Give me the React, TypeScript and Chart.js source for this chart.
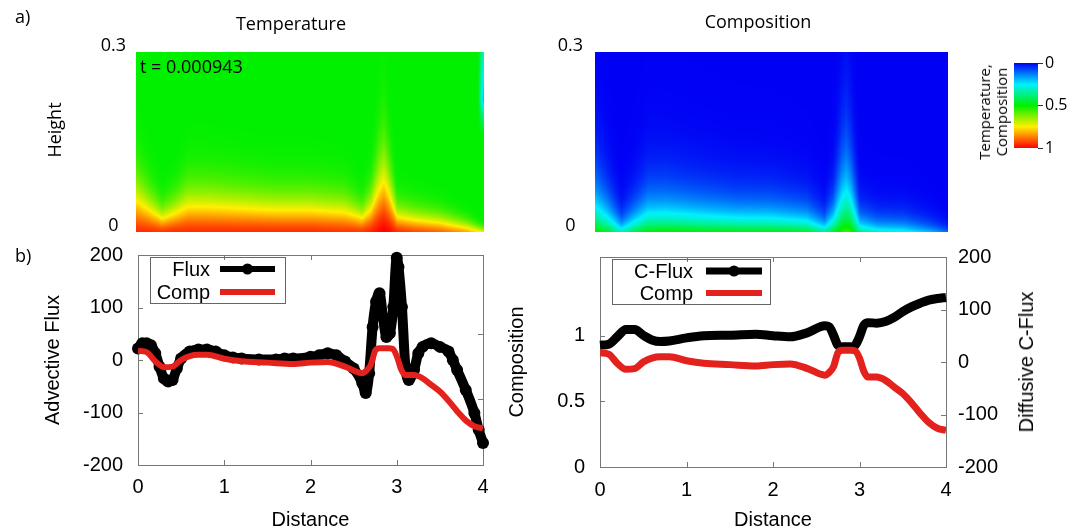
import React, { useEffect, useRef } from 'react';
import { Chart, registerables } from 'chart.js';
Chart.register(...registerables);

// ---------------- data ----------------
const distanceTicks = [0, 1, 2, 3, 4];
const fluxTicks = [-200, -100, 0, 100, 200];
const compTicks = [0, 0.5, 1];
const heightTicks = [0, 0.3];
const colorbarTicks = [0, 0.5, 1];

// Advective flux (black, left panel b)
const fluxX = [0, 0.05, 0.1, 0.15, 0.2, 0.25, 0.3, 0.35, 0.4, 0.45, 0.5, 0.6, 0.7, 0.8, 0.9, 1.0, 1.1, 1.2, 1.4, 1.6, 1.7, 1.8, 2.0, 2.1, 2.2, 2.3, 2.4, 2.5, 2.6, 2.64, 2.68, 2.72, 2.76, 2.8, 2.84, 2.88, 2.92, 2.96, 3.0, 3.02, 3.06, 3.1, 3.14, 3.2, 3.25, 3.3, 3.4, 3.5, 3.6, 3.65, 3.7, 3.8, 3.9, 3.95, 4.0];
const fluxY = [22, 32, 32, 28, 13, -13, -35, -41, -38, -16, 3, 16, 20, 20, 16, 9, 5, 3, 1, 1, 3, 3, 6, 9, 13, 9, -3, -16, -44, -63, -25, 63, 111, 127, 82, 44, 51, 101, 195, 177, 101, -13, -38, -19, 13, 25, 32, 25, 16, 0, -19, -57, -101, -133, -158];

// Composition (red, both panels b)
const compX = [0, 0.1, 0.2, 0.3, 0.4, 0.5, 0.6, 0.7, 0.8, 1.0, 1.2, 1.5, 1.8, 2.0, 2.2, 2.4, 2.6, 2.65, 2.7, 2.75, 2.8, 2.9, 2.95, 3.0, 3.05, 3.1, 3.2, 3.3, 3.4, 3.5, 3.6, 3.7, 3.8, 3.9, 4.0];
const compY = [0.87, 0.86, 0.79, 0.745, 0.75, 0.8, 0.83, 0.84, 0.84, 0.81, 0.79, 0.78, 0.77, 0.78, 0.785, 0.75, 0.7, 0.72, 0.765, 0.87, 0.89, 0.89, 0.885, 0.83, 0.73, 0.685, 0.685, 0.66, 0.61, 0.56, 0.49, 0.41, 0.34, 0.295, 0.28];

// Diffusive C-flux (black, right panel b)
const cfluxX = [0, 0.1, 0.2, 0.3, 0.4, 0.5, 0.6, 0.7, 0.8, 1.0, 1.2, 1.5, 1.8, 2.0, 2.2, 2.4, 2.6, 2.65, 2.7, 2.75, 2.8, 2.9, 2.95, 3.0, 3.05, 3.1, 3.2, 3.3, 3.4, 3.5, 3.6, 3.7, 3.8, 3.9, 4.0];
const cfluxY = [32, 34, 48, 62, 62, 51, 42, 39, 40, 46, 50, 51, 53, 50, 48, 56, 69, 67, 51, 32, 29, 29, 32, 48, 70, 75, 74, 77, 85, 96, 105, 112, 118, 121, 123];

// Heat-map fields (panel a): bottom value and boundary-layer thickness along distance
const fieldX = [0, 0.15, 0.3, 0.45, 0.6, 0.8, 1.2, 1.6, 2.0, 2.4, 2.6, 2.7, 2.8, 2.85, 2.9, 3.0, 3.2, 3.5, 3.8, 4.0];
const tempInterior = 0.5;
const tempBase = [0.95, 0.95, 0.94, 0.95, 0.95, 0.95, 0.95, 0.95, 0.95, 0.94, 0.94, 0.96, 0.99, 1.0, 0.99, 0.95, 0.92, 0.89, 0.82, 0.72];
const tempThick = [0.074, 0.052, 0.033, 0.044, 0.06, 0.06, 0.056, 0.052, 0.052, 0.048, 0.034, 0.052, 0.095, 0.108, 0.086, 0.036, 0.031, 0.026, 0.017, 0.008];
// cold streak at the right wall (temperature, upper part)
const wallZ = [0, 0.16, 0.19, 0.22, 0.26, 0.3];
const wallT = [0.5, 0.5, 0.38, 0.2, 0.25, 0.32];
const compBase = [0.52, 0.46, 0.33, 0.44, 0.5, 0.51, 0.5, 0.49, 0.49, 0.47, 0.37, 0.46, 0.54, 0.56, 0.54, 0.38, 0.31, 0.28, 0.2, 0.12];
const compThick = [0.06, 0.04, 0.02, 0.032, 0.045, 0.045, 0.04, 0.036, 0.035, 0.03, 0.02, 0.035, 0.075, 0.085, 0.07, 0.025, 0.02, 0.02, 0.015, 0.01];

// colour map
const cmapStops = [0, 0.25, 0.5, 0.75, 1];
const cmapColors = [[0, 0, 245], [0, 240, 255], [0, 240, 0], [255, 240, 0], [255, 0, 0]];

// ---------------- helpers ----------------
const FONT_TOP = '"Open Sans", "Noto Sans", sans-serif';
const FONT_GP = '"Liberation Sans", Arial, sans-serif';
const RED = '#e3211d';

function interp(xs: number[], ys: number[], x: number) {
  if (x <= xs[0]) return ys[0];
  for (let i = 1; i < xs.length; i++) {
    if (x <= xs[i]) {
      const t = (x - xs[i - 1]) / (xs[i] - xs[i - 1]);
      return ys[i - 1] + t * (ys[i] - ys[i - 1]);
    }
  }
  return ys[ys.length - 1];
}

function colormap(v: number): number[] {
  const t = Math.max(0, Math.min(1, v));
  for (let i = 1; i < cmapStops.length; i++) {
    if (t <= cmapStops[i]) {
      const f = (t - cmapStops[i - 1]) / (cmapStops[i] - cmapStops[i - 1]);
      const a = cmapColors[i - 1], b = cmapColors[i];
      return [a[0] + f * (b[0] - a[0]), a[1] + f * (b[1] - a[1]), a[2] + f * (b[2] - a[2])];
    }
  }
  return cmapColors[cmapColors.length - 1];
}

const tempAt = (x: number, z: number) => {
  const tb = interp(fieldX, tempBase, x);
  const h = interp(fieldX, tempThick, x);
  const v = tempInterior + (tb - tempInterior) * Math.exp(-Math.pow(Math.max(z, 0) / h, 1.5));
  const w = Math.max(0, Math.min(1, (x - 3.93) / 0.06));
  return v + w * (interp(wallZ, wallT, z) - tempInterior);
};
const compAt = (x: number, z: number) => {
  const cb = interp(fieldX, compBase, x);
  const h = interp(fieldX, compThick, x);
  return cb * Math.exp(-Math.max(z, 0) / h);
};

const pts = (xs: number[], ys: number[]) => xs.map((x, i) => ({ x, y: ys[i] }));
const setTicks = (vals: number[]) => (scale: any) => {
  scale.ticks = vals.map((v) => ({ value: v }));
};
const fmt = (v: any) => String(v);
// fix the scale box size and drop the automatic label-overhang padding
const fitW = (w: number) => (s: any) => {
  s.width = w;
  s.paddingTop = 0; s.paddingBottom = 0; s.paddingLeft = 0; s.paddingRight = 0;
};
const fitH = (h: number) => (s: any) => {
  s.height = h;
  s.paddingTop = 0; s.paddingBottom = 0; s.paddingLeft = 0; s.paddingRight = 0;
};

function heatmapPlugin(valueAt: (x: number, z: number) => number) {
  return {
    id: 'heatmap',
    beforeDatasetsDraw(chart: any) {
      const { ctx, chartArea: a, scales } = chart;
      const w = Math.round(a.right - a.left);
      const h = Math.round(a.bottom - a.top);
      const off = document.createElement('canvas');
      off.width = w;
      off.height = h;
      const octx = off.getContext('2d')!;
      const img = octx.createImageData(w, h);
      for (let j = 0; j < h; j++) {
        const z = scales.y.getValueForPixel(a.top + j + 0.5);
        for (let i = 0; i < w; i++) {
          const x = scales.x.getValueForPixel(a.left + i + 0.5);
          const c = colormap(valueAt(x, z));
          const k = (j * w + i) * 4;
          img.data[k] = c[0];
          img.data[k + 1] = c[1];
          img.data[k + 2] = c[2];
          img.data[k + 3] = 255;
        }
      }
      octx.putImageData(img, 0, 0);
      ctx.drawImage(off, a.left, a.top);
    },
  };
}

const colorbarPlugin = {
  id: 'colorbar',
  beforeDatasetsDraw(chart: any) {
    const { ctx, chartArea: a, scales } = chart;
    for (let py = Math.floor(a.top); py < a.bottom; py++) {
      const v = scales.y.getValueForPixel(py + 0.5);
      const c = colormap(v);
      ctx.fillStyle = `rgb(${c[0]},${c[1]},${c[2]})`;
      ctx.fillRect(a.left, py, a.right - a.left, 1);
    }
  },
};

function framePlugin(cfg: { xTicks: number[]; left: string; leftTicks: number[]; right: string; rightTicks: number[] }) {
  return {
    id: 'frame',
    beforeDatasetsDraw(chart: any) {
      const { ctx, chartArea: a, scales } = chart;
      ctx.save();
      ctx.strokeStyle = '#777';
      ctx.lineWidth = 1;
      ctx.strokeRect(Math.round(a.left) + 0.5, Math.round(a.top) + 0.5, Math.round(a.right - a.left), Math.round(a.bottom - a.top));
      const L = 5;
      ctx.beginPath();
      cfg.xTicks.forEach((v) => {
        const px = Math.round(scales.x.getPixelForValue(v)) + 0.5;
        ctx.moveTo(px, a.bottom);
        ctx.lineTo(px, a.bottom - L);
        ctx.moveTo(px, a.top);
        ctx.lineTo(px, a.top + L);
      });
      cfg.leftTicks.forEach((v) => {
        const py = Math.round(scales[cfg.left].getPixelForValue(v)) + 0.5;
        ctx.moveTo(a.left, py);
        ctx.lineTo(a.left + L, py);
      });
      cfg.rightTicks.forEach((v) => {
        const py = Math.round(scales[cfg.right].getPixelForValue(v)) + 0.5;
        ctx.moveTo(a.right, py);
        ctx.lineTo(a.right - L, py);
      });
      ctx.stroke();
      ctx.restore();
    },
  };
}

function keyPlugin(cfg: { box: number[]; textRight: number; lineFrom: number; lineTo: number; rowY: number[] }) {
  return {
    id: 'key',
    afterDatasetsDraw(chart: any) {
      const { ctx, chartArea: a } = chart;
      ctx.save();
      ctx.strokeStyle = '#666';
      ctx.lineWidth = 1;
      ctx.strokeRect(Math.round(a.left + cfg.box[0]) + 0.5, Math.round(a.top + cfg.box[1]) + 0.5, cfg.box[2] - cfg.box[0], cfg.box[3] - cfg.box[1]);
      ctx.font = `20px ${FONT_GP}`;
      ctx.textAlign = 'right';
      ctx.textBaseline = 'middle';
      chart.data.datasets.forEach((d: any) => {
        const y = a.top + cfg.rowY[d.keyRow];
        ctx.fillStyle = '#000';
        ctx.fillText(d.label, a.left + cfg.textRight, y + 1);
        ctx.strokeStyle = d.borderColor;
        ctx.lineWidth = d.keyWidth;
        ctx.beginPath();
        ctx.moveTo(a.left + cfg.lineFrom, y);
        ctx.lineTo(a.left + cfg.lineTo, y);
        ctx.stroke();
        if (d.keyMarker) {
          ctx.fillStyle = d.borderColor;
          ctx.beginPath();
          ctx.arc(a.left + (cfg.lineFrom + cfg.lineTo) / 2, y, 5.5, 0, Math.PI * 2);
          ctx.fill();
        }
      });
      ctx.restore();
    },
  };
}

const gpFont = { family: FONT_GP, size: 20 };
const topFont = { family: FONT_TOP, size: 18 };

function heatmapConfig(valueAt: (x: number, z: number) => number, axisWidth: number, padRight: number, tickPad: number): any {
  return {
    type: 'scatter',
    data: { datasets: [{ data: [] }] },
    options: {
      animation: false,
      responsive: false,
      devicePixelRatio: 1,
      layout: { padding: { left: 0, top: 52, right: padRight, bottom: 8 } },
      plugins: { legend: { display: false }, tooltip: { enabled: false } },
      scales: {
        x: { type: 'linear', min: 0, max: 4, display: false },
        y: {
          type: 'linear', min: 0, max: 0.3, position: 'left',
          afterBuildTicks: setTicks(heightTicks),
          afterFit: fitW(axisWidth),
          grid: { display: false, drawTicks: false },
          border: { display: false },
          ticks: { font: topFont, color: '#000', padding: tickPad, crossAlign: 'center', labelOffset: -6, callback: fmt },
        },
      },
    },
    plugins: [heatmapPlugin(valueAt)],
  };
}

const colorbarConfig: any = {
  type: 'scatter',
  data: { datasets: [{ data: [] }] },
  options: {
    animation: false,
    responsive: false,
    devicePixelRatio: 1,
    layout: { padding: { left: 54, top: 23, right: 0, bottom: 22 } },
    plugins: { legend: { display: false }, tooltip: { enabled: false } },
    scales: {
      x: { type: 'linear', min: 0, max: 1, display: false },
      y: {
        type: 'linear', min: 0, max: 1, reverse: true, position: 'right',
        afterBuildTicks: setTicks(colorbarTicks),
        afterFit: fitW(49),
        grid: { display: true, drawOnChartArea: false, drawTicks: true, tickLength: 5, color: '#333' },
        border: { display: false },
        ticks: { font: { family: FONT_TOP, size: 16 }, color: '#000', padding: 2, callback: fmt },
      },
    },
  },
  plugins: [colorbarPlugin],
};

const fluxChartConfig: any = {
  type: 'line',
  data: {
    datasets: [
      { label: 'Comp', data: pts(compX, compY), yAxisID: 'y1', borderColor: RED, borderWidth: 6, pointRadius: 0, cubicInterpolationMode: 'monotone', order: 0, keyRow: 1, keyWidth: 6, keyMarker: false },
      { label: 'Flux', data: pts(fluxX, fluxY), yAxisID: 'y', borderColor: '#000', backgroundColor: '#000', borderWidth: 10, pointRadius: 6, pointBorderWidth: 0, pointBackgroundColor: '#000', cubicInterpolationMode: 'monotone', order: 1, clip: false, keyRow: 0, keyWidth: 6, keyMarker: true },
    ],
  },
  options: {
    animation: false,
    responsive: false,
    devicePixelRatio: 1,
    layout: { padding: { left: 0, top: 15, right: 57, bottom: 0 } },
    plugins: { legend: { display: false }, tooltip: { enabled: false } },
    scales: {
      x: {
        type: 'linear', min: 0, max: 4,
        afterBuildTicks: setTicks(distanceTicks),
        afterFit: fitH(67),
        grid: { display: false, drawTicks: false }, border: { display: false },
        ticks: { font: gpFont, color: '#000', padding: 10, callback: fmt },
        title: { display: true, text: 'Distance', font: gpFont, color: '#000', padding: { top: 0, bottom: 0 } },
      },
      y: {
        type: 'linear', min: -200, max: 200, position: 'left',
        afterBuildTicks: setTicks(fluxTicks),
        afterFit: fitW(138),
        grid: { display: false, drawTicks: false }, border: { display: false },
        ticks: { font: gpFont, color: '#000', padding: 15, callback: fmt },
        title: { display: true, text: 'Advective Flux', font: gpFont, color: '#000', padding: { top: 41, bottom: 0 } },
      },
      y1: { type: 'linear', min: 0, max: 1.6, position: 'right', display: false },
    },
  },
  plugins: [
    framePlugin({ xTicks: [1, 2, 3], left: 'y', leftTicks: [-100, 0, 100], right: 'y1', rightTicks: [0.5, 1] }),
    keyPlugin({ box: [12, 2, 147, 48], textRight: 72, lineFrom: 82, lineTo: 137, rowY: [14, 37] }),
  ],
};

const cfluxChartConfig: any = {
  type: 'line',
  data: {
    datasets: [
      { label: 'Comp', data: pts(compX, compY), yAxisID: 'y', borderColor: RED, borderWidth: 7, pointRadius: 0, cubicInterpolationMode: 'monotone', order: 0, keyRow: 1, keyWidth: 6, keyMarker: false },
      { label: 'C-Flux', data: pts(cfluxX, cfluxY), yAxisID: 'y1', borderColor: '#000', borderWidth: 9, pointRadius: 0, cubicInterpolationMode: 'monotone', order: 1, clip: false, keyRow: 0, keyWidth: 7, keyMarker: true },
    ],
  },
  options: {
    animation: false,
    responsive: false,
    devicePixelRatio: 1,
    layout: { padding: { left: 0, top: 17, right: 0, bottom: 0 } },
    plugins: { legend: { display: false }, tooltip: { enabled: false } },
    scales: {
      x: {
        type: 'linear', min: 0, max: 4,
        afterBuildTicks: setTicks(distanceTicks),
        afterFit: fitH(65),
        grid: { display: false, drawTicks: false }, border: { display: false },
        ticks: { font: gpFont, color: '#000', padding: 11, callback: fmt },
        title: { display: true, text: 'Distance', font: gpFont, color: '#000', padding: { top: 0, bottom: 0 } },
      },
      y: {
        type: 'linear', min: 0, max: 1.6, position: 'left',
        afterBuildTicks: setTicks(compTicks),
        afterFit: fitW(100),
        grid: { display: false, drawTicks: false }, border: { display: false },
        ticks: { font: gpFont, color: '#000', padding: 15, callback: fmt },
        title: { display: true, text: 'Composition', font: gpFont, color: '#000', padding: { top: 5, bottom: 0 } },
      },
      y1: {
        type: 'linear', min: -200, max: 200, position: 'right',
        afterBuildTicks: setTicks(fluxTicks),
        afterFit: fitW(141),
        grid: { display: false, drawTicks: false }, border: { display: false },
        ticks: { font: gpFont, color: '#000', padding: 12, callback: fmt },
      },
    },
  },
  plugins: [
    framePlugin({ xTicks: [1, 2, 3], left: 'y', leftTicks: [0.5, 1], right: 'y1', rightTicks: [-100, 0, 100] }),
    keyPlugin({ box: [12, 2, 170, 47], textRight: 93, lineFrom: 106, lineTo: 162, rowY: [14, 36] }),
  ],
};

// ---------------- components ----------------
function ChartBox(props: { config: any; left: number; top: number; width: number; height: number }) {
  const ref = useRef<HTMLCanvasElement>(null);
  useEffect(() => {
    const chart = new Chart(ref.current as HTMLCanvasElement, props.config);
    return () => chart.destroy();
  }, []);
  return (
    <canvas
      ref={ref}
      width={props.width}
      height={props.height}
      style={{ position: 'absolute', left: props.left, top: props.top, width: props.width, height: props.height }}
    />
  );
}

function Label(props: { x: number; y: number; text: string; font: string; size: number; rotate?: boolean; align?: 'center' | 'left' }) {
  const tx = props.align === 'left' ? '0' : '-50%';
  return (
    <div
      style={{
        position: 'absolute', left: props.x, top: props.y,
        transform: `translate(${tx}, -50%)${props.rotate ? ' rotate(-90deg)' : ''}`,
        fontFamily: props.font, fontSize: props.size, lineHeight: 1, whiteSpace: 'nowrap', color: '#000',
      }}
    >
      {props.text}
    </div>
  );
}

export default function App() {
  return (
    <div style={{ position: 'absolute', left: 0, top: 0, width: 1087, height: 532, background: '#fff', overflow: 'hidden' }}>
      <ChartBox config={heatmapConfig(tempAt, 136, 56, 10)} left={0} top={0} width={540} height={240} />
      <ChartBox config={heatmapConfig(compAt, 95, 12, 12)} left={500} top={0} width={460} height={240} />
      <ChartBox config={colorbarConfig} left={960} top={40} width={127} height={130} />
      <ChartBox config={fluxChartConfig} left={0} top={240} width={540} height={292} />
      <ChartBox config={cfluxChartConfig} left={500} top={240} width={587} height={292} />

      <Label x={15} y={16} text="a)" font={FONT_TOP} size={18} align="left" />
      <Label x={15} y={255} text="b)" font={FONT_TOP} size={18} align="left" />
      <Label x={291} y={23} text="Temperature" font={FONT_TOP} size={18} />
      <Label x={758} y={21} text="Composition" font={FONT_TOP} size={18} />
      <Label x={54} y={130} text="Height" font={FONT_TOP} size={18} rotate />
      <Label x={140} y={66} text="t = 0.000943" font={FONT_TOP} size={18} align="left" />
      <div
        style={{
          position: 'absolute', left: 993, top: 112, transform: 'translate(-50%, -50%) rotate(-90deg)',
          fontFamily: FONT_TOP, fontSize: 15, lineHeight: '17px', textAlign: 'center', whiteSpace: 'nowrap', color: '#000',
        }}
      >
        Temperature,<br />Composition
      </div>
      <Label x={1026} y={362} text="Diffusive C-Flux" font={FONT_GP} size={20} rotate />
    </div>
  );
}
